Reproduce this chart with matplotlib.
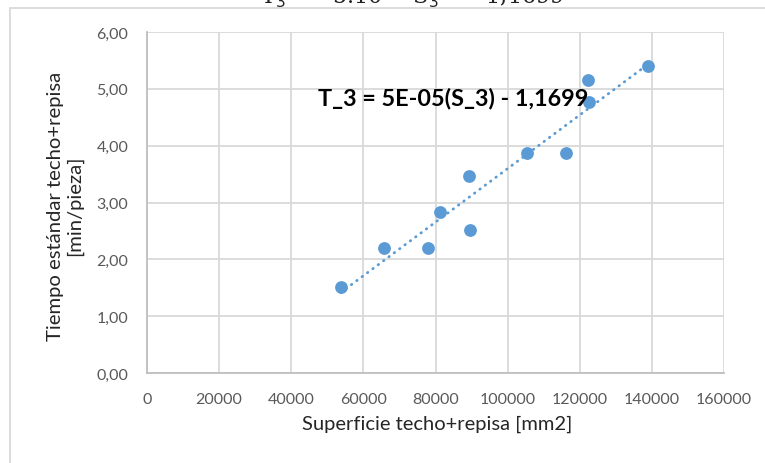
import numpy as np
import matplotlib.pyplot as plt
from matplotlib.patches import Rectangle

# Data
superficie = [53700, 65700, 77800, 81300, 89300, 89700, 105500, 116300, 122300, 122500, 138900]
tiempo = [1.52, 2.20, 2.20, 2.84, 3.47, 2.52, 3.87, 3.87, 5.16, 4.76, 5.41]

x_ticks = [0, 20000, 40000, 60000, 80000, 100000, 120000, 140000, 160000]
y_ticks = [0, 1, 2, 3, 4, 5, 6]
y_ticklabels = ["0,00", "1,00", "2,00", "3,00", "4,00", "5,00", "6,00"]

blue = "#5b9bd5"
grid = "#d9d9d9"
spine = "#bfbfbf"
tick_col = "#595959"

plt.rcParams['font.family'] = ['Lato', 'DejaVu Sans']

fig = plt.figure(figsize=(7.65, 4.64), dpi=100)
W, H = 765, 464

# chart area border (extends past the crop on right/bottom)
fig.patches.append(Rectangle((10 / W, -0.1), 1.2, 1 - 8.5 / H + 0.1, transform=fig.transFigure,
                             fill=False, edgecolor=grid, lw=1.3))

# cropped equation line from the document above the chart
fig.text(260 / W, 1 - 4 / H, "T$_3$  =  5.10$^{-5}$ S$_3$  −  1,1699", family='DejaVu Serif',
         fontsize=16, ha='left', va='baseline', color='#222222')

ax = fig.add_axes([147 / W, 1 - 374 / H, 577 / W, 341 / H])

# trendline (least squares over the points)
slope, intercept = np.polyfit(superficie, tiempo, 1)
xl = np.array([min(superficie), max(superficie)])
ax.plot(xl, slope * xl + intercept, color=blue, lw=2.0, linestyle=(0, (0.2, 2.2)),
        dash_capstyle='round', zorder=2)

ax.scatter(superficie, tiempo, s=85, color=blue, zorder=3, linewidths=0)

ax.text(47400, 4.85, "T_3 = 5E-05(S_3) - 1,1699", fontsize=16.8, fontweight='bold',
        ha='left', va='center', color='black', zorder=4)

ax.set_xlim(0, 160000)
ax.set_ylim(0, 6)
ax.set_xticks(x_ticks)
ax.set_xticklabels([str(v) for v in x_ticks])
ax.set_yticks(y_ticks)
ax.set_yticklabels(y_ticklabels)
ax.tick_params(length=0, colors=tick_col, labelsize=11.5)
ax.tick_params(axis='x', pad=14)
ax.tick_params(axis='y', pad=13.5)
ax.grid(True, color=grid, lw=1.3)
ax.set_axisbelow(True)
for s in ['top', 'right']:
    ax.spines[s].set_visible(False)
for s in ['left', 'bottom']:
    ax.spines[s].set_color(spine)
    ax.spines[s].set_linewidth(1.3)

fig.text(437 / W, 1 - 424 / H, "Superficie techo+repisa [mm2]", fontsize=14.5,
         ha='center', va='center', color='#262626')
fig.text(65 / W, 1 - 206 / H, "Tiempo estándar techo+repisa\n[min/pieza]", fontsize=14.6,
         ha='center', va='center', rotation=90, color='#262626', linespacing=1.15)

fig.savefig("out.png", dpi=100)
